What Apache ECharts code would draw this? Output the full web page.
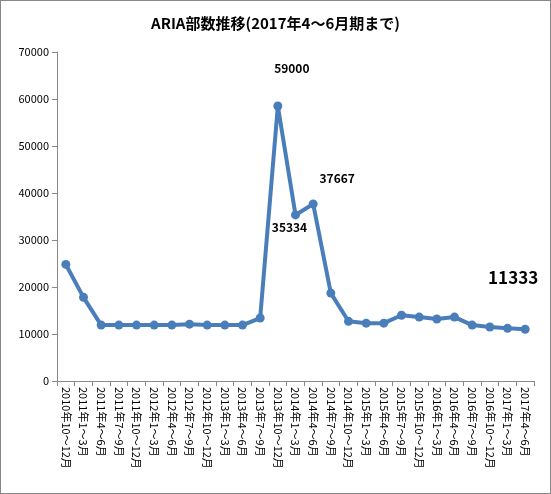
<!DOCTYPE html>
<html>
<head>
<meta charset="utf-8">
<script src="https://cdn.jsdelivr.net/npm/echarts@6/dist/echarts.min.js"></script>
<style>
html, body { margin: 0; padding: 0; background: #fff; }
#chart { width: 549px; height: 492px; border: 1px solid #888; }
</style>
</head>
<body>
<div id="chart"></div>
<script>
// quarters shown along the x axis
var quarters = [
    '2010年10～12月', '2011年1～3月', '2011年4～6月', '2011年7～9月', '2011年10～12月',
    '2012年1～3月', '2012年4～6月', '2012年7～9月', '2012年10～12月',
    '2013年1～3月', '2013年4～6月', '2013年7～9月', '2013年10～12月',
    '2014年1～3月', '2014年4～6月', '2014年7～9月', '2014年10～12月',
    '2015年1～3月', '2015年4～6月', '2015年7～9月', '2015年10～12月',
    '2016年1～3月', '2016年4～6月', '2016年7～9月', '2016年10～12月',
    '2017年1～3月', '2017年4～6月'
];

// circulation per quarter
var copies = [
    24800, 17800, 11900, 11900, 11900,
    11900, 11900, 12100, 11900,
    11900, 11900, 13400, 58500,
    35334, 37667, 18700, 12700,
    12300, 12300, 14000, 13600,
    13200, 13600, 11900, 11500,
    11200, 11000
];

// points that get a value label: index -> [text, size, offset]
var labelled = {
    12: ['59000', 12, [14, -22]],
    13: ['35334', 12, [-6, 28]],
    14: ['37667', 12, [24, -10]],
    26: ['11333', 17, [-12, -34]]
};

var seriesData = copies.map(function(v, i) {
    var item = { value: v };
    if (labelled[i]) {
        item.label = {
            show: true,
            formatter: labelled[i][0],
            fontSize: labelled[i][1],
            offset: labelled[i][2]
        };
    }
    return item;
});

var chart = echarts.init(document.getElementById('chart'));
chart.setOption({
    animation: false,
    textStyle: { fontFamily: 'Noto Sans CJK JP' },
    title: {
        text: 'ARIA部数推移(2017年4～6月期まで)',
        left: 'center',
        top: 10,
        textStyle: { fontSize: 15, fontWeight: 'bold', color: '#000' }
    },
    grid: { left: 56, right: 16, top: 51, bottom: 112 },
    xAxis: {
        type: 'category',
        data: quarters,
        boundaryGap: true,
        axisLine: { lineStyle: { color: '#888' } },
        axisTick: { show: true, alignWithLabel: false, lineStyle: { color: '#888' } },
        axisLabel: { rotate: -90, interval: 0, fontSize: 11, color: '#000', margin: 6 }
    },
    yAxis: {
        type: 'value',
        min: 0,
        max: 70000,
        interval: 10000,
        axisLine: { show: true, lineStyle: { color: '#888' } },
        axisTick: { show: true, lineStyle: { color: '#888' } },
        axisLabel: {
            fontSize: 11,
            color: '#000',
            formatter: function(v) { return String(v); }
        },
        splitLine: { show: false }
    },
    series: [{
        type: 'line',
        data: seriesData,
        symbol: 'circle',
        symbolSize: 9,
        lineStyle: { color: '#4a7ebb', width: 4 },
        itemStyle: { color: '#4a7ebb' },
        label: { color: '#000', fontWeight: 'bold' }
    }]
});
</script>
</body>
</html>
